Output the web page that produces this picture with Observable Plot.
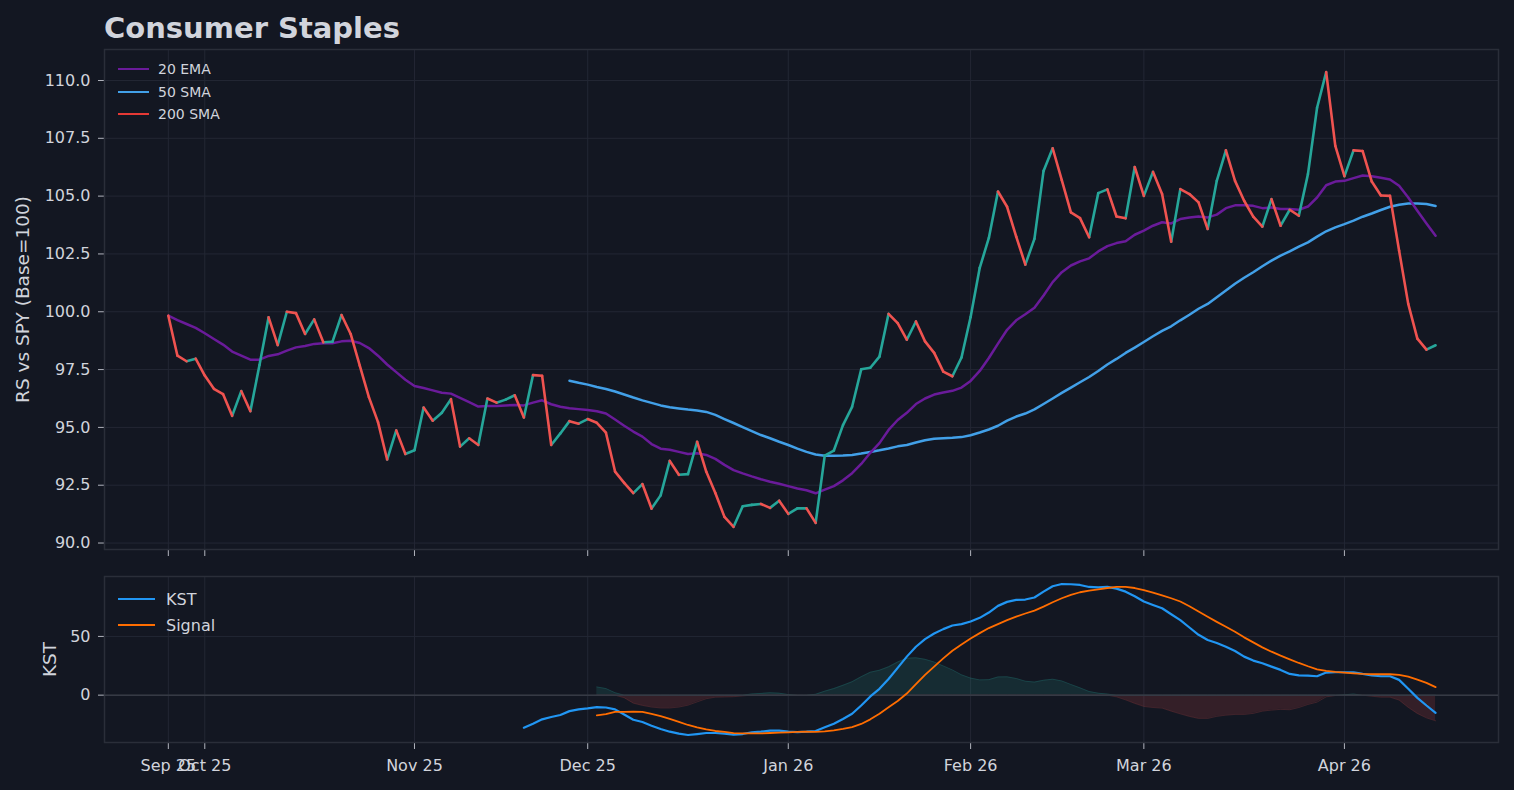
<!DOCTYPE html>
<html>
<head>
<meta charset="utf-8">
<script src="https://cdn.jsdelivr.net/npm/d3@7"></script>
<script src="https://cdn.jsdelivr.net/npm/@observablehq/plot@0.6"></script>
<style>
  html, body { margin: 0; padding: 0; background: #131722; }
  #wrap { position: relative; width: 1514px; height: 790px; background: #131722; overflow: hidden; font-family: "DejaVu Sans", sans-serif; color: #d1d4dc; }
  #title { position: absolute; left: 104px; top: 14px; font-size: 29px; font-weight: bold; line-height: 1; color: #d1d4dc; white-space: nowrap; }
  .panel { position: absolute; left: 0; }
  .legend { position: absolute; }
  .legend .row { position: absolute; display: flex; align-items: center; white-space: nowrap; }
  .legend .sw { display: inline-block; height: 0; }
</style>
</head>
<body>
<div id="wrap">
  <div id="title">Consumer Staples</div>
  <div id="p1" class="panel" style="top:45px"></div>
  <div id="p2" class="panel" style="top:560px"></div>
  <div id="leg1" class="legend"></div>
  <div id="leg2" class="legend"></div>
</div>
<script>
// ---- x axis (trading-day index) ----
const tickIndex = [0, 4, 27, 46, 68, 88, 107, 129];
const tickLabels = ["Sep 25", "Oct 25", "Nov 25", "Dec 25", "Jan 26", "Feb 26", "Mar 26", "Apr 26"];

// ---- RS vs SPY (Base=100), one value per trading day from index 0 ----
const rs = [99.83, 98.10, 97.86, 97.97, 97.24, 96.67, 96.44, 95.50, 96.57, 95.70,
  97.70, 99.76, 98.56, 100.00, 99.94, 99.04, 99.67, 98.68, 98.70, 99.86,
  99.04, 97.67, 96.31, 95.23, 93.61, 94.87, 93.85, 94.01, 95.86, 95.29,
  95.63, 96.22, 94.17, 94.53, 94.24, 96.25, 96.07, 96.20, 96.39, 95.43,
  97.26, 97.23, 94.24, 94.74, 95.27, 95.16, 95.36, 95.20, 94.77, 93.09,
  92.60, 92.16, 92.55, 91.49, 92.06, 93.55, 92.95, 92.98, 94.38, 93.09,
  92.16, 91.13, 90.70, 91.59, 91.65, 91.69, 91.52, 91.83, 91.26, 91.50,
  91.50, 90.87, 93.78, 94.00, 95.10, 95.89, 97.51, 97.58, 98.06, 99.91,
  99.51, 98.79, 99.58, 98.72, 98.22, 97.41, 97.21, 98.02, 99.77, 101.90,
  103.19, 105.20, 104.54, 103.25, 102.04, 103.15, 106.09, 107.07, 105.69, 104.30,
  104.05, 103.22, 105.13, 105.29, 104.12, 104.04, 106.26, 105.01, 106.05, 105.09,
  103.03, 105.30, 105.09, 104.73, 103.58, 105.66, 106.98, 105.66, 104.80, 104.11,
  103.68, 104.87, 103.72, 104.41, 104.15, 105.95, 108.82, 110.36, 107.17, 105.86,
  106.98, 106.95, 105.63, 105.03, 105.01, 102.64, 100.34, 98.84, 98.36, 98.55];

const ema20 = [99.83, 99.64, 99.47, 99.30, 99.07, 98.82, 98.58, 98.28, 98.10, 97.93,
  97.93, 98.09, 98.16, 98.32, 98.46, 98.52, 98.61, 98.64, 98.64, 98.72,
  98.75, 98.65, 98.43, 98.10, 97.72, 97.39, 97.06, 96.79, 96.70, 96.60,
  96.50, 96.46, 96.28, 96.09, 95.90, 95.92, 95.93, 95.95, 95.97, 95.95,
  96.07, 96.17, 96.00, 95.89, 95.83, 95.79, 95.75, 95.70, 95.60, 95.34,
  95.07, 94.82, 94.60, 94.28, 94.08, 94.03, 93.94, 93.85, 93.88, 93.81,
  93.64, 93.38, 93.15, 93.01, 92.88, 92.76, 92.65, 92.56, 92.46, 92.36,
  92.28, 92.15, 92.31, 92.46, 92.71, 93.02, 93.42, 93.90, 94.32, 94.89,
  95.32, 95.63, 96.01, 96.25, 96.42, 96.51, 96.58, 96.72, 97.01, 97.44,
  98.00, 98.62, 99.22, 99.63, 99.89, 100.17, 100.70, 101.28, 101.71, 102.00,
  102.18, 102.31, 102.61, 102.84, 102.97, 103.05, 103.33, 103.51, 103.72, 103.87,
  103.82, 104.01, 104.08, 104.12, 104.08, 104.20, 104.48, 104.60, 104.61, 104.58,
  104.48, 104.51, 104.44, 104.44, 104.41, 104.55, 104.94, 105.47, 105.63, 105.66,
  105.78, 105.89, 105.86, 105.79, 105.72, 105.45, 104.94, 104.37, 103.82, 103.29];

// 50 SMA, first value at trading-day index 44
const SMA50_START = 44;
const sma50 = [97.02, 96.93, 96.85, 96.75, 96.66, 96.55, 96.42, 96.29, 96.17, 96.06,
  95.95, 95.87, 95.82, 95.77, 95.73, 95.67, 95.54, 95.36, 95.19, 95.01,
  94.84, 94.67, 94.53, 94.38, 94.24, 94.08, 93.94, 93.83, 93.77, 93.77,
  93.78, 93.81, 93.87, 93.94, 94.01, 94.09, 94.18, 94.24, 94.35, 94.44,
  94.51, 94.53, 94.55, 94.58, 94.66, 94.78, 94.91, 95.07, 95.29, 95.47,
  95.60, 95.78, 96.01, 96.25, 96.49, 96.72, 96.95, 97.18, 97.44, 97.72,
  97.96, 98.22, 98.45, 98.69, 98.94, 99.17, 99.37, 99.63, 99.87, 100.13,
  100.34, 100.63, 100.92, 101.21, 101.47, 101.71, 101.97, 102.21, 102.43, 102.61,
  102.82, 103.00, 103.25, 103.48, 103.65, 103.79, 103.94, 104.11, 104.25, 104.40,
  104.54, 104.63, 104.68, 104.68, 104.66, 104.57];

// KST, first value at trading-day index 39
const KST_START = 39;
const kst = [-27.7, -24.3, -20.6, -18.6, -16.9, -13.6, -12.1, -11.3, -10.2, -10.5,
  -12.1, -16.4, -20.9, -22.9, -26.0, -28.8, -31.1, -32.8, -33.9, -33.1,
  -32.2, -32.2, -32.8, -33.6, -33.1, -31.6, -31.1, -30.2, -30.2, -31.1,
  -31.4, -31.1, -30.5, -27.4, -24.3, -20.3, -15.8, -8.8, -1.1, 5.4,
  13.8, 23.2, 32.8, 41.2, 47.7, 52.5, 56.2, 59.3, 60.5, 62.7,
  65.8, 70.3, 76.0, 79.4, 81.1, 81.4, 83.1, 88.1, 92.7, 94.6,
  94.4, 93.8, 92.1, 91.8, 92.1, 90.7, 88.1, 84.2, 79.7, 76.8,
  74.0, 68.9, 63.8, 57.6, 51.4, 46.9, 44.4, 41.2, 37.6, 32.8,
  29.4, 27.1, 24.3, 21.5, 18.1, 16.9, 16.7, 16.1, 19.2, 19.5,
  19.5, 19.5, 18.1, 16.9, 16.1, 16.1, 13.0, 5.4, -2.3, -8.8, -15.0];

// Signal, first value at trading-day index 47
const SIGNAL_START = 47;
const signal = [-17.2, -16.1, -14.2, -14.2, -14.1, -14.2, -15.9, -17.9, -20.2, -22.7,
  -25.4, -27.4, -29.2, -30.5, -31.3, -32.3, -32.5, -32.6, -32.6, -32.2,
  -31.9, -31.6, -31.2, -31.0, -31.2, -30.8, -29.9, -28.7, -27.2, -24.5,
  -20.6, -15.8, -10.3, -5.0, 1.4, 9.4, 17.2, 24.3, 31.3, 37.8,
  43.2, 48.2, 52.8, 57.1, 60.5, 63.8, 66.9, 69.5, 72.0, 75.4,
  79.1, 82.5, 85.3, 87.6, 89.0, 90.1, 91.2, 92.1, 92.1, 91.2,
  89.3, 87.3, 85.0, 82.5, 79.7, 75.7, 71.2, 66.7, 62.4, 58.2,
  54.0, 49.2, 44.9, 40.7, 37.0, 33.6, 30.5, 27.4, 24.6, 22.0,
  20.6, 19.8, 19.2, 18.6, 18.1, 17.8, 17.8, 17.8, 17.2, 15.8,
  13.3, 10.5, 6.8];

const yTicksRS = [90, 92.5, 95, 97.5, 100, 102.5, 105, 107.5, 110];
const yTicksKST = [0, 50];

// ---- styles ----
const BG = "#131722", GRID = "#232734", FRAME = "#2a2e39", TEXT = "#d1d4dc", TICK = "#b2b5be";
const UP = "#26a69a", DOWN = "#ef5350";
const C_EMA = "#6a1b9a", C_SMA = "#42a0e8", C_200 = "#e53935", C_KST = "#2196f3", C_SIG = "#ff6d00";
const X_DOMAIN = [-7, 145.9];
const FONT = "DejaVu Sans, sans-serif";

// ---- derived tables ----
const seg = rs.slice(1).map((v, k) => ({i1: k, v1: rs[k], i2: k + 1, v2: v, up: v >= rs[k]}));
const emaData = ema20.map((v, i) => ({i, v}));
const smaData = sma50.map((v, k) => ({i: SMA50_START + k, v}));
const kstData = kst.map((v, k) => ({i: KST_START + k, v}));
const sigData = signal.map((v, k) => ({i: SIGNAL_START + k, v}));
const histData = sigData.map(d => ({i: d.i, v: kst[d.i - KST_START] - d.v}));

const upper = Plot.plot({
  width: 1514, height: 515,
  marginTop: 4, marginBottom: 11, marginLeft: 104, marginRight: 16,
  style: {background: BG, color: TEXT, fontFamily: FONT, fontSize: "16px"},
  x: {domain: X_DOMAIN},
  y: {domain: [89.72, 111.34]},
  marks: [
    Plot.gridX(tickIndex, {stroke: GRID, strokeOpacity: 1}),
    Plot.gridY(yTicksRS, {stroke: GRID, strokeOpacity: 1}),
    Plot.axisY({ticks: yTicksRS, tickFormat: d => d.toFixed(1), tickSize: 6, tickPadding: 8, label: null, stroke: TICK, fill: TEXT}),
    Plot.axisX({ticks: tickIndex, tickSize: 7, tickFormat: () => "", label: null, stroke: TICK}),
    Plot.text(["RS vs SPY (Base=100)"], {frameAnchor: "left", rotate: -90, dx: -81, lineAnchor: "middle", textAnchor: "middle", fontSize: 18.5, fill: TEXT}),
    Plot.frame({stroke: FRAME, strokeWidth: 1.5}),
    Plot.line(smaData, {x: "i", y: "v", stroke: C_SMA, strokeWidth: 2.5}),
    Plot.line(emaData, {x: "i", y: "v", stroke: C_EMA, strokeWidth: 2.5}),
    Plot.link(seg.filter(d => d.up), {x1: "i1", y1: "v1", x2: "i2", y2: "v2", stroke: UP, strokeWidth: 2.6, strokeLinecap: "round"}),
    Plot.link(seg.filter(d => !d.up), {x1: "i1", y1: "v1", x2: "i2", y2: "v2", stroke: DOWN, strokeWidth: 2.6, strokeLinecap: "round"})
  ]
});
document.getElementById("p1").appendChild(upper);

const lower = Plot.plot({
  width: 1514, height: 230,
  marginTop: 16, marginBottom: 48, marginLeft: 104, marginRight: 16,
  style: {background: BG, color: TEXT, fontFamily: FONT, fontSize: "16px"},
  x: {domain: X_DOMAIN},
  y: {domain: [-40.3, 101.0]},
  marks: [
    Plot.gridX(tickIndex, {stroke: GRID, strokeOpacity: 1}),
    Plot.gridY(yTicksKST, {stroke: GRID, strokeOpacity: 1}),
    Plot.axisY({ticks: yTicksKST, tickSize: 6, tickPadding: 8, label: null, stroke: TICK, fill: TEXT}),
    Plot.axisX({ticks: tickIndex, tickSize: 7, tickPadding: 10, tickFormat: d => tickLabels[tickIndex.indexOf(d)], label: null, stroke: TICK, fill: TEXT}),
    Plot.text(["KST"], {frameAnchor: "left", rotate: -90, dx: -54, lineAnchor: "middle", textAnchor: "middle", fontSize: 18.5, fill: TEXT}),
    Plot.frame({stroke: FRAME, strokeWidth: 1.5}),
    Plot.areaY(histData, {x: "i", y: d => Math.max(0, d.v), fill: UP, fillOpacity: 0.15}),
    Plot.lineY(histData, {x: "i", y: d => Math.max(0, d.v), stroke: UP, strokeOpacity: 0.2, strokeWidth: 1}),
    Plot.areaY(histData, {x: "i", y: d => Math.min(0, d.v), fill: DOWN, fillOpacity: 0.15}),
    Plot.lineY(histData, {x: "i", y: d => Math.min(0, d.v), stroke: DOWN, strokeOpacity: 0.2, strokeWidth: 1}),
    Plot.ruleY([0], {stroke: "#363a45", strokeWidth: 1.5}),
    Plot.line(kstData, {x: "i", y: "v", stroke: C_KST, strokeWidth: 2.2}),
    Plot.line(sigData, {x: "i", y: "v", stroke: C_SIG, strokeWidth: 1.8})
  ]
});
document.getElementById("p2").appendChild(lower);

// ---- legends ----
function legend(id, items, opts) {
  const el = document.getElementById(id);
  items.forEach((it, k) => {
    const row = document.createElement("div");
    row.className = "row";
    row.style.left = opts.x + "px";
    row.style.top = (opts.y + k * opts.dy - opts.fs * 0.6) + "px";
    row.style.height = (opts.fs * 1.2) + "px";
    row.style.fontSize = opts.fs + "px";
    row.style.color = TEXT;
    const sw = document.createElement("span");
    sw.className = "sw";
    sw.style.width = opts.sw + "px";
    sw.style.borderTop = opts.lw + "px solid " + it.color;
    sw.style.marginRight = opts.gap + "px";
    row.appendChild(sw);
    const t = document.createElement("span");
    t.textContent = it.label;
    row.appendChild(t);
    el.appendChild(row);
  });
}
legend("leg1", [{label: "20 EMA", color: C_EMA}, {label: "50 SMA", color: C_SMA}, {label: "200 SMA", color: C_200}],
  {x: 118, y: 69.5, dy: 22.3, fs: 14, sw: 31, lw: 2.5, gap: 9});
legend("leg2", [{label: "KST", color: C_KST}, {label: "Signal", color: C_SIG}],
  {x: 118, y: 599.5, dy: 25.8, fs: 16, sw: 37, lw: 2, gap: 11});
</script>
</body>
</html>
